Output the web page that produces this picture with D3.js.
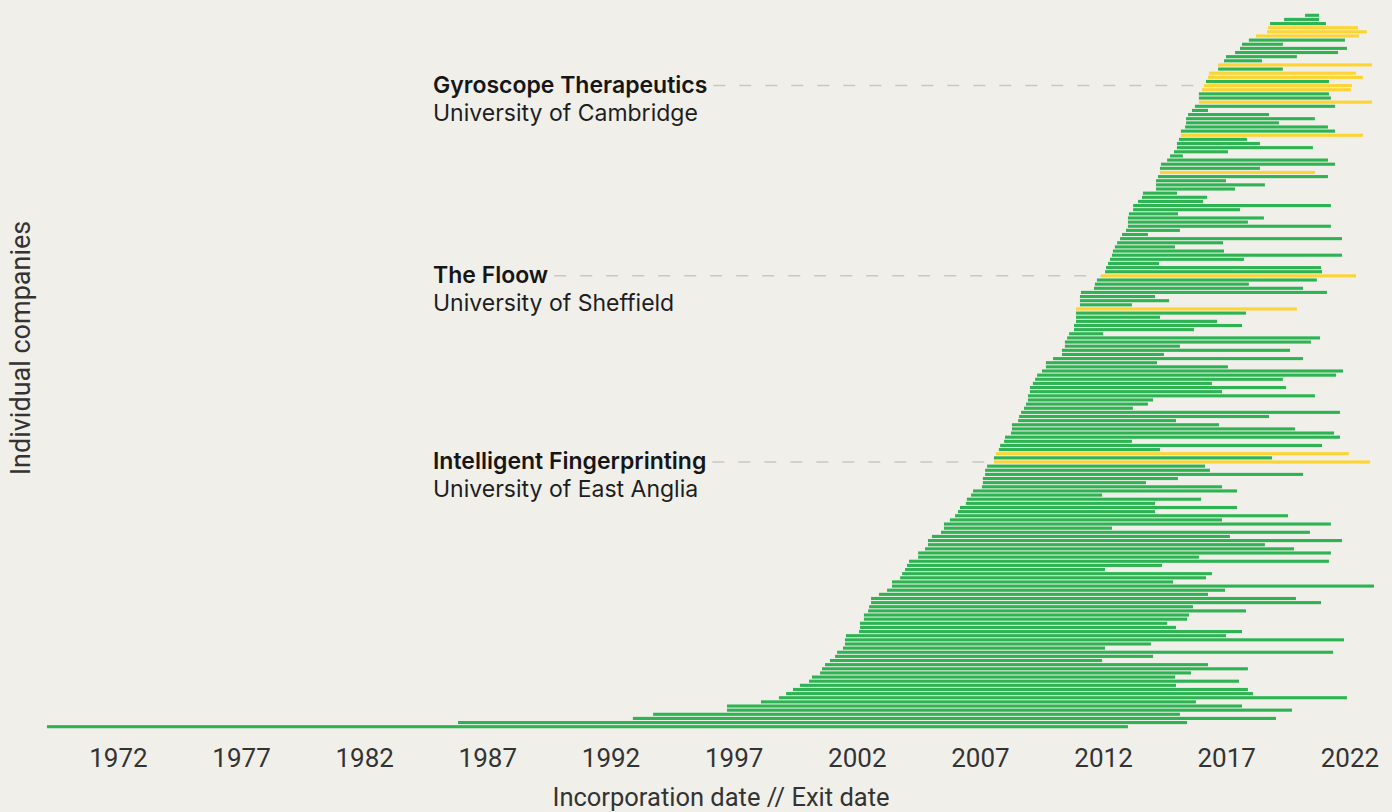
<!DOCTYPE html>
<html>
<head>
<meta charset="utf-8">
<script src="https://cdn.jsdelivr.net/npm/d3@7"></script>
<style>
  html, body { margin: 0; padding: 0; background: #f1efea; }
  svg { display: block; }
</style>
</head>
<body>
<svg id="chart" width="1392" height="812"></svg>
<script>
// ---- Data (top row first) ----
const incorporation = [
2020.20,2019.35,2018.78,2018.70,2018.66,2018.21,2017.92,2017.64,2017.56,2017.36,
2016.99,2016.91,2016.67,2016.67,2016.30,2016.26,2016.18,2016.10,2016.02,2015.89,
2015.89,2015.89,2015.73,2015.61,2015.45,2015.37,2015.37,2015.33,2015.16,2015.16,
2015.08,2015.00,2015.00,2014.88,2014.72,2014.60,2014.35,2014.31,2014.31,2014.23,
2014.15,2014.15,2014.15,2013.62,2013.58,2013.42,2013.22,2013.22,2013.05,2013.01,
2013.01,2013.01,2012.93,2012.77,2012.69,2012.57,2012.48,2012.40,2012.36,2012.28,
2012.20,2012.12,2012.08,2011.92,2011.75,2011.67,2011.63,2011.10,2011.06,2011.06,
2011.06,2010.90,2010.90,2010.90,2010.90,2010.82,2010.82,2010.62,2010.54,2010.45,
2010.45,2010.33,2010.33,2009.97,2009.68,2009.68,2009.52,2009.32,2009.24,2009.15,
2009.03,2009.03,2008.95,2008.95,2008.87,2008.79,2008.67,2008.59,2008.55,2008.30,
2008.30,2008.26,2008.02,2007.98,2007.82,2007.77,2007.65,2007.57,2007.57,2007.29,
2007.21,2007.21,2007.12,2007.12,2007.08,2006.72,2006.64,2006.47,2006.43,2006.19,
2006.11,2005.99,2005.78,2005.54,2005.54,2005.42,2005.05,2004.89,2004.89,2004.77,
2004.49,2004.49,2004.12,2004.04,2003.96,2003.84,2003.76,2003.43,2003.43,2003.23,
2002.90,2002.58,2002.58,2002.50,2002.46,2002.29,2002.29,2002.13,2002.13,2002.09,
2001.56,2001.52,2001.52,2001.44,2001.20,2001.12,2000.91,2000.71,2000.59,2000.51,
2000.18,2000.06,1999.69,1999.41,1999.13,1998.84,1998.11,1996.73,1996.73,1993.73,
1992.91,1985.81,1969.12
];
const exitDate = [
2020.77,2020.77,2021.05,2022.35,2022.71,2022.39,2021.82,2019.30,2021.90,2021.54,
2019.87,2018.45,2022.92,2019.30,2022.27,2022.55,2021.17,2022.11,2022.06,2021.17,
2021.25,2022.92,2021.42,2016.26,2018.74,2020.60,2019.14,2021.13,2021.42,2022.55,
2017.84,2018.37,2020.52,2017.07,2015.24,2021.13,2021.42,2018.37,2020.60,2021.13,
2016.99,2018.57,2017.36,2015.00,2016.22,2016.06,2021.25,2017.56,2015.04,2018.53,
2017.88,2021.25,2015.12,2013.82,2021.70,2016.87,2014.92,2016.91,2021.70,2017.72,
2014.27,2020.85,2020.89,2022.27,2020.68,2017.92,2020.12,2021.09,2014.11,2014.68,
2013.17,2019.87,2017.80,2014.31,2016.63,2017.64,2015.69,2012.00,2020.81,2020.44,
2015.12,2019.59,2014.47,2020.12,2014.19,2017.07,2021.74,2021.46,2019.30,2016.42,
2019.43,2016.83,2020.60,2014.03,2013.82,2013.21,2021.62,2018.74,2014.96,2016.71,
2019.79,2021.38,2021.62,2013.17,2020.89,2014.31,2021.98,2018.86,2022.84,2016.14,
2016.34,2020.12,2015.04,2013.74,2016.83,2017.44,2011.96,2015.98,2014.11,2017.44,
2014.11,2019.51,2016.83,2021.25,2012.36,2020.40,2017.15,2021.70,2018.57,2019.75,
2021.25,2015.89,2021.17,2014.39,2012.08,2016.42,2016.18,2014.84,2023.00,2016.95,
2016.26,2019.83,2020.85,2015.65,2017.80,2015.49,2015.41,2014.60,2014.96,2017.64,
2016.99,2021.78,2013.94,2012.08,2021.34,2014.03,2011.96,2016.26,2017.88,2015.57,
2014.92,2017.52,2014.96,2017.88,2018.09,2021.90,2015.77,2017.64,2019.67,2015.12,
2019.02,2015.41,2013.01
];
// 1 = highlighted (yellow) company, 0 = other
const highlighted = [
0,0,0,1,1,1,0,0,0,0, 0,0,1,0,1,1,0,1,1,0, 0,1,0,0,0,0,0,0,0,1,
0,0,0,0,0,0,0,0,1,0, 0,0,0,0,0,0,0,0,0,0, 0,0,0,0,0,0,0,0,0,0,
0,0,0,1,0,0,0,0,0,0, 0,1,0,0,0,0,0,0,0,0, 0,0,0,0,0,0,0,0,0,0,
0,0,0,0,0,0,0,0,0,0, 0,0,0,0,0,0,1,0,1,0, 0,0,0,0,0,0,0,0,0,0,
0,0,0,0,0,0,0,0,0,0, 0,0,0,0,0,0,0,0,0,0, 0,0,0,0,0,0,0,0,0,0,
0,0,0,0,0,0,0,0,0,0, 0,0,0,0,0,0,0,0,0,0, 0,0,0
];
const tickYears = [1972,1977,1982,1987,1992,1997,2002,2007,2012,2017,2022];
const annoCompanies = ["Gyroscope Therapeutics","The Floow","Intelligent Fingerprinting"];
const annoUniversities = ["University of Cambridge","University of Sheffield","University of East Anglia"];
const annoRows = [17,63,108];

// ---- Chart ----
const W = 1392, H = 812;
const svg = d3.select("#chart");
svg.append("rect").attr("width",W).attr("height",H).attr("fill","#f1efea");

const n = incorporation.length;
const x = d3.scaleLinear().domain([1969, 2023]).range([44, 1374]);
const y = d3.scalePoint().domain(d3.range(n)).range([15.3, 726.7]);
const color = d3.scaleOrdinal().domain([0,1]).range(["#2db352","#fdd431"]);
const barH = 3.1;

const rows = d3.range(n).map(i => ({i, s: incorporation[i], e: exitDate[i], h: highlighted[i]}));

svg.append("g").selectAll("rect").data(rows).join("rect")
  .attr("x", d => x(d.s))
  .attr("y", d => y(d.i) - barH/2)
  .attr("width", d => x(d.e) - x(d.s))
  .attr("height", barH)
  .attr("fill", d => color(d.h));

// Annotations
const annoG = svg.append("g");
annoRows.forEach((r, k) => {
  const ly = y(r);
  const t1 = annoG.append("text")
    .attr("x", 433).attr("y", ly + 7.5)
    .attr("font-family", "Inter, 'Noto Sans', sans-serif")
    .attr("font-weight", 600).attr("font-size", 23)
    .attr("fill", "#161616")
    .text(annoCompanies[k]);
  annoG.append("text")
    .attr("x", 433).attr("y", ly + 35)
    .attr("font-family", "Inter, 'Noto Sans', sans-serif")
    .attr("font-weight", 400).attr("font-size", 23)
    .attr("fill", "#1e1e1e")
    .text(annoUniversities[k]);
  const tw = t1.node().getComputedTextLength();
  annoG.insert("line", ":first-child")
    .attr("x1", 433 + tw + 6).attr("x2", x(incorporation[r]))
    .attr("y1", ly).attr("y2", ly)
    .attr("stroke", "#c9c7c1").attr("stroke-width", 1.5)
    .attr("stroke-dasharray", "12,14");
});

// X axis (labels only)
const xAxis = svg.append("g")
  .attr("transform", "translate(0,749)")
  .call(d3.axisBottom(x).tickValues(tickYears).tickFormat(d3.format("d")).tickSize(0).tickPadding(0));
xAxis.select(".domain").remove();
xAxis.selectAll("text")
  .attr("font-family", "Roboto, sans-serif")
  .attr("font-size", 26)
  .attr("fill", "#333");

svg.append("text")
  .attr("x", 721).attr("y", 806)
  .attr("text-anchor", "middle")
  .attr("font-family", "Roboto, sans-serif")
  .attr("font-size", 25.5)
  .attr("fill", "#333")
  .text("Incorporation date // Exit date");

svg.append("text")
  .attr("transform", "translate(30,348) rotate(-90)")
  .attr("text-anchor", "middle")
  .attr("font-family", "Roboto, sans-serif")
  .attr("font-size", 27)
  .attr("fill", "#333")
  .text("Individual companies");
</script>
</body>
</html>
